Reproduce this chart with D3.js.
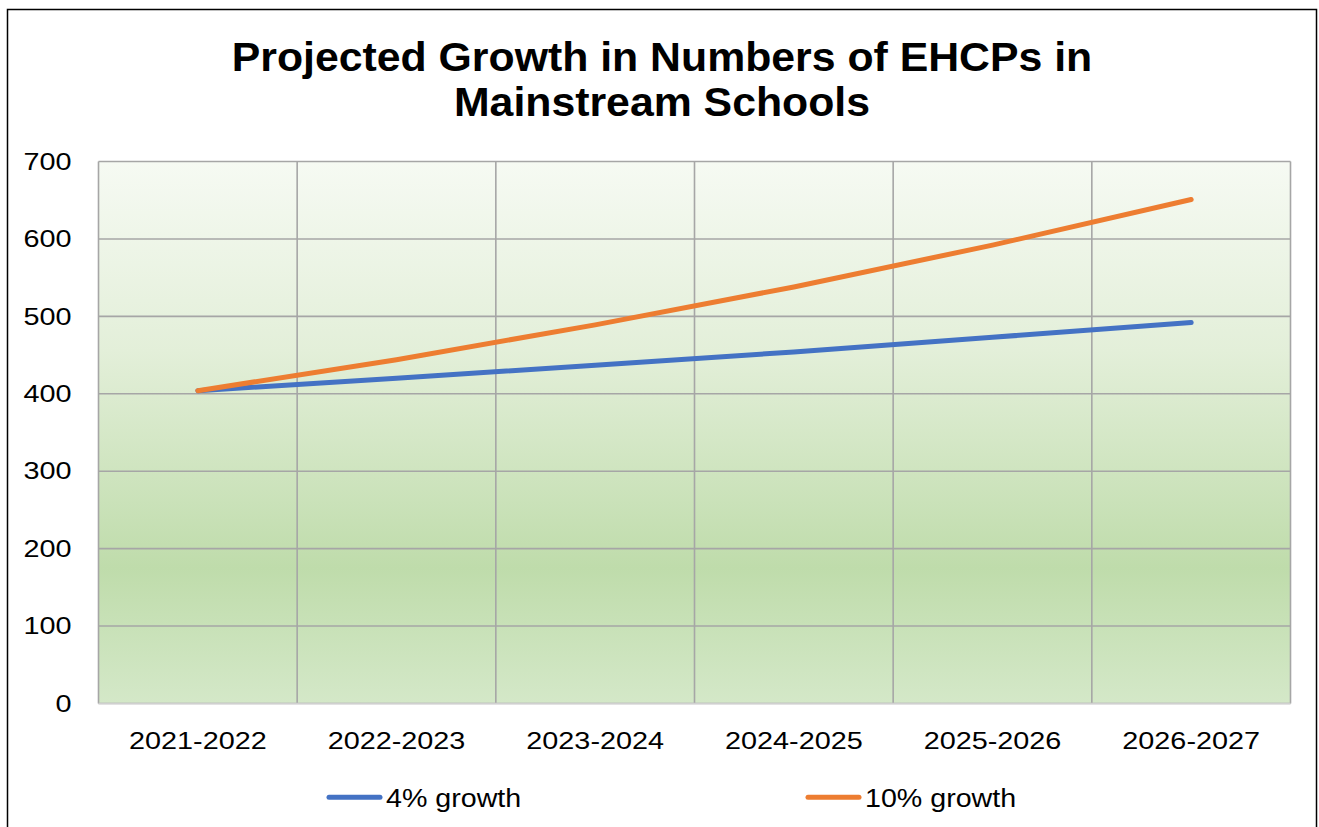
<!DOCTYPE html>
<html><head><meta charset="utf-8">
<script src="https://cdn.jsdelivr.net/npm/d3@7"></script>
<style>body{margin:0;background:#fff;}svg{display:block;font-family:"Liberation Sans",Arial,sans-serif;}</style>
</head><body><svg id="c" width="1319" height="827"></svg>
<script>
const categories = ["2021-2022","2022-2023","2023-2024","2024-2025","2025-2026","2026-2027"];
const growth4 = [404, 420, 437, 454, 473, 492];
const growth10 = [404, 444, 489, 538, 592, 651];
const seriesNames = ["4% growth","10% growth"];
const seriesColors = ["#4472c4","#ed7d31"];
const yTicks = [0,100,200,300,400,500,600,700];
const titleLines = ["Projected Growth in Numbers of EHCPs in","Mainstream Schools"];

const svg = d3.select("#c");
const FONT = "Liberation Sans, Arial, sans-serif";
svg.append("rect").attr("x",7.5).attr("y",9.5).attr("width",1309).attr("height",830).attr("fill","#fff").attr("stroke","#000").attr("stroke-width",1.5);

const defs = svg.append("defs");
const g = defs.append("linearGradient").attr("id","bg").attr("x1",0).attr("y1",0).attr("x2",0).attr("y2",1);
[[0,"#f6faf3"],[0.35,"#e3efd9"],[0.75,"#bfdcab"],[1,"#d4e8c8"]].forEach(s=>g.append("stop").attr("offset",s[0]).attr("stop-color",s[1]));

const m={l:98.5,t:161.5,r:1290.5,b:703.5};
const x = d3.scaleBand().domain(categories).range([m.l,m.r]);
const y = d3.scaleLinear().domain([0,700]).range([m.b,m.t]);

svg.append("rect").attr("x",m.l).attr("y",m.t).attr("width",m.r-m.l).attr("height",m.b-m.t).attr("fill","url(#bg)");

// gridlines
const grid = svg.append("g").attr("stroke","#a6a6a6").attr("stroke-width",1.6);
yTicks.forEach(t=>grid.append("line").attr("x1",m.l).attr("x2",m.r).attr("y1",y(t)).attr("y2",y(t)));
categories.forEach(c=>grid.append("line").attr("x1",x(c)).attr("x2",x(c)).attr("y1",m.t).attr("y2",m.b));
grid.append("line").attr("x1",m.r).attr("x2",m.r).attr("y1",m.t).attr("y2",m.b);
svg.append("line").attr("x1",m.l).attr("x2",m.r).attr("y1",m.b).attr("y2",m.b).attr("stroke","#d0d0d0").attr("stroke-width",1.6);

const SX = 1.2;
// axes
const yAxis = d3.axisLeft(y).tickValues(yTicks).tickSize(0).tickPadding(27);
const ya = svg.append("g").attr("transform",`translate(${m.l},0)`).call(yAxis);
ya.select(".domain").remove();
ya.selectAll("text").attr("font-size",24).attr("fill","#000").attr("font-family",FONT)
  .attr("x",-27/SX).attr("transform",`scale(${SX},1)`);

const xAxis = d3.axisBottom(x).tickSize(0).tickPadding(28);
const xa = svg.append("g").attr("transform",`translate(0,${m.b})`).call(xAxis);
xa.select(".domain").remove();
xa.selectAll("text").attr("font-size",24).attr("fill","#000").attr("font-family",FONT)
  .attr("transform",`scale(${SX},1)`);

// lines
const line = d3.line().x((d,i)=>x(categories[i])+x.bandwidth()/2).y(d=>y(d));
[growth4,growth10].forEach((s,i)=>{
  svg.append("path").datum(s).attr("d",line).attr("fill","none").attr("stroke",seriesColors[i]).attr("stroke-width",5).attr("stroke-linecap","round").attr("stroke-linejoin","round");
});

// title
const TS = 1.07;
svg.append("g").attr("transform",`translate(662,0) scale(${TS},1)`)
  .append("text").attr("text-anchor","middle").attr("font-weight","bold").attr("font-size",40).attr("fill","#000")
  .selectAll("tspan").data(titleLines).join("tspan").attr("x",0).attr("y",(d,i)=>71+i*45.5).text(d=>d);

// legend
const legX=[327,806];
seriesNames.forEach((n,i)=>{
  svg.append("line").attr("x1",legX[i]+2).attr("x2",legX[i]+53).attr("y1",797.3).attr("y2",797.3).attr("stroke",seriesColors[i]).attr("stroke-width",5).attr("stroke-linecap","round");
  svg.append("g").attr("transform",`translate(${legX[i]+59},807) scale(1.08,1)`)
    .append("text").attr("font-size",26.5).attr("fill","#000").text(n);
});
</script></body></html>
